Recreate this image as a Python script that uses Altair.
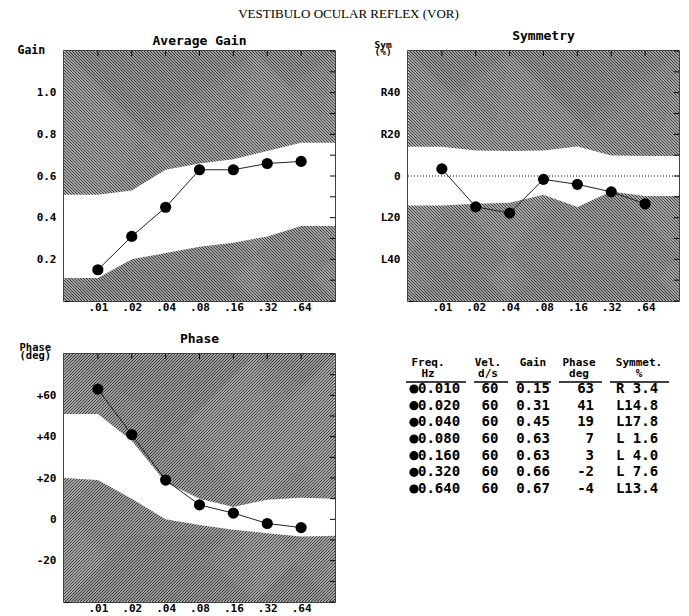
import altair as alt
import pandas as pd
import numpy as np

# ---------------- data ----------------
freqs = [0.01, 0.02, 0.04, 0.08, 0.16, 0.32, 0.64]
velocity = [60, 60, 60, 60, 60, 60, 60]
gain = [0.15, 0.31, 0.45, 0.63, 0.63, 0.66, 0.67]
phase = [63, 41, 19, 7, 3, -2, -4]
symmetry = [3.4, -14.8, -17.8, -1.6, -4.0, -7.6, -13.4]

# normal-range boundaries (left edge, each test frequency, right edge)
norm_freqs = [0.005, 0.01, 0.02, 0.04, 0.08, 0.16, 0.32, 0.64, 1.28]
gain_norm_low = [0.11, 0.11, 0.20, 0.23, 0.26, 0.28, 0.31, 0.36, 0.36]
gain_norm_high = [0.51, 0.51, 0.53, 0.63, 0.66, 0.68, 0.72, 0.76, 0.76]
sym_norm_low = [-14.1, -14.1, -13.3, -12.8, -9.0, -14.9, -7.4, -9.6, -9.6]
sym_norm_high = [14.0, 14.0, 12.3, 12.0, 12.3, 14.2, 9.9, 9.6, 9.6]
phase_norm_low = [20, 19, 10, 0, -2.7, -5, -6.7, -8.3, -8]
phase_norm_high = [51, 51, 38, 18, 10, 6, 9.5, 10.5, 10]

gain_ticks = [round(v, 1) for v in np.arange(0, 1.21, 0.1)]
sym_ticks = list(range(-60, 61, 10))
phase_ticks = list(range(-40, 81, 10))

MONO = "DejaVu Sans Mono"
DARK = "#383838"
LIGHT = "#d4d4d4"
W = 271
F0, F1 = norm_freqs[0], norm_freqs[-1]


def hatch_frame(H, ydomain, direction, step=3.0):
    """End points of 45-degree hatch strokes (decoration only)."""
    px = np.arange(-H, W + step, step)
    octaves = np.log2(F1 / F0)
    if direction == "back":   # '\' strokes: top at px, bottom at px+H
        xa, xb = px, px + H
    else:                     # '/' strokes: bottom at px, top at px+H
        xa, xb = px + H, px
    return pd.DataFrame({
        "fa": F0 * 2 ** (xa / W * octaves), "ya": ydomain[1],
        "fb": F0 * 2 ** (xb / W * octaves), "yb": ydomain[0],
    })


def panel(title, values, low, high, ydomain, yticks, label_expr, ytitle, title_x, title_y,
          title_size, title_lh, hatch_dir, H, zero_line=False):
    xscale = alt.Scale(type="log", base=2, domain=[F0, F1], nice=False)
    yscale = alt.Scale(domain=ydomain, nice=False, zero=False)
    xaxis = alt.Axis(values=freqs, labelExpr="replace(format(datum.value,'.2f'),'0.','.')",
                     offset=-5, tickSize=5, domain=False, grid=False, labelPadding=0,
                     labelFont=MONO, labelFontWeight="bold", labelFontSize=11, labelColor="black",
                     tickColor="black", title=None)
    yaxis = alt.Axis(values=yticks, labelExpr=label_expr, offset=-5, tickSize=5, domain=False,
                     grid=False, labelPadding=8, labelFont=MONO, labelFontWeight="bold",
                     labelFontSize=11, labelColor="black", tickColor="black",
                     titleAngle=0, titleX=title_x, titleY=title_y, titleAlign="left",
                     titleBaseline="middle", titleFont=MONO, titleFontWeight="bold",
                     titleFontSize=title_size, titleColor="black", titleLineHeight=title_lh)

    def xe(f):
        return alt.X(f, type="quantitative", scale=xscale, axis=xaxis)

    def ye(f):
        return alt.Y(f, type="quantitative", scale=yscale, axis=yaxis, title=ytitle)

    bg = alt.Chart(pd.DataFrame({"x0": [F0], "x1": [F1], "y0": [ydomain[0]], "y1": [ydomain[1]]})
                   ).mark_rect(color=LIGHT, strokeWidth=0).encode(
        x=xe("x0"), x2="x1", y=ye("y0"), y2="y1")

    strokes = alt.Chart(hatch_frame(H, ydomain, hatch_dir)).mark_rule(
        color=DARK, strokeWidth=1.15, clip=True).encode(x=xe("fa"), x2="fb", y=ye("ya"), y2="yb")

    band = alt.Chart(pd.DataFrame({"f": norm_freqs, "lo": low, "hi": high})).mark_area(
        color="white", opacity=1, interpolate="linear").encode(x=xe("f"), y=ye("lo"), y2="hi")

    layers = [bg, strokes, band]
    if zero_line:
        layers.append(alt.Chart(pd.DataFrame({"z": [0]})).mark_rule(
            color="black", strokeDash=[1, 2], strokeWidth=1).encode(y=ye("z")))

    pts = pd.DataFrame({"f": freqs, "v": values})
    layers.append(alt.Chart(pts).mark_line(color="#222", strokeWidth=1).encode(x=xe("f"), y=ye("v")))
    layers.append(alt.Chart(pts).mark_point(filled=True, color="black", size=125, opacity=1,
                                            shape="circle").encode(x=xe("f"), y=ye("v")))

    # inward ticks on the top and right frames
    layers.append(alt.Chart(pd.DataFrame({"f": freqs})).mark_rule(color="black").encode(
        x=xe("f"), y=alt.value(0), y2=alt.value(5)))
    layers.append(alt.Chart(pd.DataFrame({"t": yticks})).mark_rule(color="black").encode(
        y=ye("t"), x=alt.value(W - 5), x2=alt.value(W)))

    return alt.layer(*layers).properties(
        width=W, height=H,
        title=alt.TitleParams(title, font=MONO, fontWeight="bold", fontSize=13, color="black",
                              offset=-4, anchor="middle"))


gain_chart = panel(
    "Average Gain", gain, gain_norm_low, gain_norm_high, [0, 1.2], gain_ticks,
    "(datum.value > 0.15 && datum.value < 1.05 && abs(datum.value*10 - 2*round(datum.value*5)) < 0.01) ? format(datum.value, '.1f') : ''",
    "Gain", -52, -1, 11.5, 8, "back", 250)

sym_chart = panel(
    "Symmetry", symmetry, sym_norm_low, sym_norm_high, [-60, 60], sym_ticks,
    "datum.value == 0 ? '0' : ((abs(datum.value) == 20 || abs(datum.value) == 40) ? ((datum.value > 0 ? 'R' : 'L') + abs(datum.value)) : '')",
    ["Sym", "(%)"], -39, -7, 9.5, 7.5, "back", 250, zero_line=True)

phase_chart = panel(
    "Phase", phase, phase_norm_low, phase_norm_high, [-40, 80], phase_ticks,
    "(datum.value > 0 && datum.value <= 60 && datum.value % 20 == 0) ? '+' + datum.value : ((datum.value == 0 || datum.value == -20) ? '' + datum.value : '')",
    ["Phase", "(deg)"], -50, -7, 10.5, 8.5, "fwd", 248)

# ---------------- table ----------------
rows = pd.DataFrame({
    "row": list(range(len(freqs))),
    "freq": [f"{f:.3f}" for f in freqs],
    "vel": [str(v) for v in velocity],
    "gain": [f"{g:.2f}" for g in gain],
    "phase": [str(p) for p in phase],
    "sym": [("R" if s > 0 else "L") + f"{abs(s):4.1f}" for s in symmetry],
})
yrow = alt.Y("row:Q", scale=alt.Scale(domain=[0, 6], range=[35, 135]), axis=None)
tfont = dict(font=MONO, fontWeight="bold", fontSize=14, color="black", baseline="middle")
hfont = dict(font=MONO, fontWeight="bold", fontSize=11, color="black", baseline="middle",
             lineHeight=10.5, align="center")

one = pd.DataFrame({"a": [0]})
tlayers = []
headers = [(["Freq.", "Hz"], 20), (["Vel.", "d/s"], 80), (["Gain"], 125),
           (["Phase", "deg"], 171), (["Symmet.", "%"], 231)]
for txt, xpos in headers:
    tlayers.append(alt.Chart(one).mark_text(text=txt, **hfont).encode(
        x=alt.value(xpos), y=alt.value(9)))
for a, b in [(-2, 58), (66, 100), (108, 143), (151, 194), (202, 261)]:
    tlayers.append(alt.Chart(one).mark_rule(color="black", strokeWidth=1.5).encode(
        x=alt.value(a), x2=alt.value(b), y=alt.value(28)))

tlayers.append(alt.Chart(rows).mark_circle(color="black", size=85, opacity=1).encode(
    x=alt.value(6), y=yrow))
tlayers.append(alt.Chart(rows).mark_text(align="left", **tfont).encode(
    x=alt.value(10), y=yrow, text="freq:N"))
tlayers.append(alt.Chart(rows).mark_text(align="center", **tfont).encode(
    x=alt.value(82), y=yrow, text="vel:N"))
tlayers.append(alt.Chart(rows).mark_text(align="center", **tfont).encode(
    x=alt.value(125), y=yrow, text="gain:N"))
tlayers.append(alt.Chart(rows).mark_text(align="right", **tfont).encode(
    x=alt.value(186), y=yrow, text="phase:N"))
tlayers.append(alt.Chart(rows).mark_text(align="center", **tfont).encode(
    x=alt.value(229), y=yrow, text="sym:N"))

table = alt.layer(*tlayers).properties(
    width=272, height=140, view=alt.ViewBackground(stroke="transparent"))

chart = alt.concat(
    gain_chart, sym_chart, phase_chart, table, columns=2,
    spacing={"row": 53, "column": 73}, bounds="flush",
    title=alt.TitleParams("VESTIBULO OCULAR REFLEX (VOR)", font="Liberation Serif",
                          fontSize=13, fontWeight="normal", color="black", anchor="middle",
                          offset=8),
).configure_view(stroke="black", strokeWidth=1.5).properties(
    padding={"left": 16, "top": 8, "right": 5, "bottom": 5}, background="white")

chart.save("out.html", embed_options={"renderer": "svg", "actions": False})
